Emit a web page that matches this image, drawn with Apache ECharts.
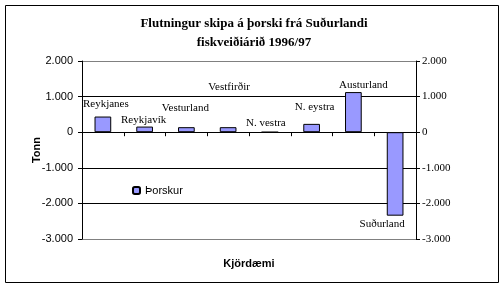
<!DOCTYPE html>
<html>
<head>
<meta charset="utf-8">
<script src="https://cdn.jsdelivr.net/npm/echarts@6/dist/echarts.min.js"></script>
<style>
html, body { margin: 0; padding: 0; background: #fff; }
#chart { width: 504px; height: 289px; }
</style>
</head>
<body>
<div id="chart"></div>
<script>
// gögn
var categories = ["Reykjanes", "Reykjavík", "Vesturland", "Vestfirðir", "N. vestra", "N. eystra", "Austurland", "Suðurland"];
var values = [440, 158, 141, 141, 0, 234, 1127, -2345];
var yTicks = [-3000, -2000, -1000, 0, 1000, 2000];
var seriesName = "Þorskur";

// staðsetning merkja (px) miðað við miðju súlu
var labelOffsets = [[3, -20], [-1, -9], [-1, -22], [1, -43], [-4, -9], [3, -21], [10, -27], [-13, 50]];

function fmt(v) {
    var s = String(Math.abs(v));
    if (s.length > 3) s = s.slice(0, s.length - 3) + "." + s.slice(s.length - 3);
    return (v < 0 ? "-" : "") + s;
}

(function () {
    var myChart = echarts.init(document.getElementById("chart"));
    var barData = values.map(function (v, i) {
        return {
            value: v,
            label: { offset: labelOffsets[i] }
        };
    });
    var option = {
        animation: false,
        title: {
            text: "Flutningur skipa á þorski frá Suðurlandi\nfiskveiðiárið 1996/97",
            left: 249,
            top: 9,
            textAlign: "center",
            textStyle: {
                fontFamily: "Liberation Serif",
                fontSize: 13,
                fontWeight: "bold",
                color: "#000",
                lineHeight: 19
            }
        },
        graphic: [{
            type: "rect",
            shape: { x: 5.5, y: 5.5, width: 493, height: 277 },
            style: { fill: null, stroke: "#000", lineWidth: 1 }
        }],
        legend: {
            left: 127,
            top: 180,
            itemWidth: 7,
            itemHeight: 7,
            itemGap: 4,
            data: [seriesName],
            textStyle: { fontFamily: "Liberation Sans", fontSize: 11, color: "#000" }
        },
        grid: {
            left: 82,
            right: 88,
            top: 61,
            height: 178,
            outerBoundsMode: "none",
            containLabel: false
        },
        xAxis: {
            type: "category",
            data: categories,
            name: "Kjördæmi",
            nameLocation: "middle",
            nameGap: 19,
            nameMoveOverlap: false,
            nameTextStyle: {
                fontFamily: "Liberation Sans",
                fontSize: 11,
                fontWeight: "bold",
                color: "#000"
            },
            axisLine: { onZero: true, lineStyle: { color: "#000", width: 1 } },
            axisTick: { show: true, interval: 0, length: 4, lineStyle: { color: "#000" } },
            axisLabel: { show: false },
            splitLine: { show: false }
        },
        yAxis: [
            {
                type: "value",
                min: yTicks[0],
                max: yTicks[yTicks.length - 1],
                interval: 1000,
                name: "Tonn",
                nameLocation: "middle",
                nameGap: 40,
                nameMoveOverlap: false,
                nameTextStyle: {
                    fontFamily: "Liberation Sans",
                    fontSize: 11,
                    fontWeight: "bold",
                    color: "#000"
                },
                axisLine: { show: true, lineStyle: { color: "#000" } },
                axisTick: { show: true, length: 4, lineStyle: { color: "#000" } },
                axisLabel: {
                    margin: 9,
                    formatter: fmt,
                    fontFamily: "Liberation Sans",
                    fontSize: 11,
                    color: "#000"
                },
                splitLine: {
                    show: true,
                    lineStyle: { color: ["#808080", "#000", "#000", "#000", "#000", "#808080"], width: 1 }
                }
            },
            {
                type: "value",
                position: "right",
                min: yTicks[0],
                max: yTicks[yTicks.length - 1],
                interval: 1000,
                axisLine: { show: true, lineStyle: { color: "#000" } },
                axisTick: { show: true, length: 4, lineStyle: { color: "#000" } },
                axisLabel: {
                    margin: 6,
                    formatter: fmt,
                    fontFamily: "Liberation Serif",
                    fontSize: 11,
                    color: "#000"
                },
                splitLine: { show: false }
            }
        ],
        series: [
            {
                name: seriesName,
                type: "bar",
                barWidth: "40%",
                data: barData,
                itemStyle: {
                    color: "#9999FF",
                    borderColor: "#000",
                    borderWidth: 1
                },
                label: {
                    show: true,
                    position: "inside",
                    formatter: "{b}",
                    fontFamily: "Liberation Serif",
                    fontSize: 11,
                    color: "#000"
                }
            }
        ]
    };
    myChart.setOption(option);
})();
</script>
</body>
</html>
